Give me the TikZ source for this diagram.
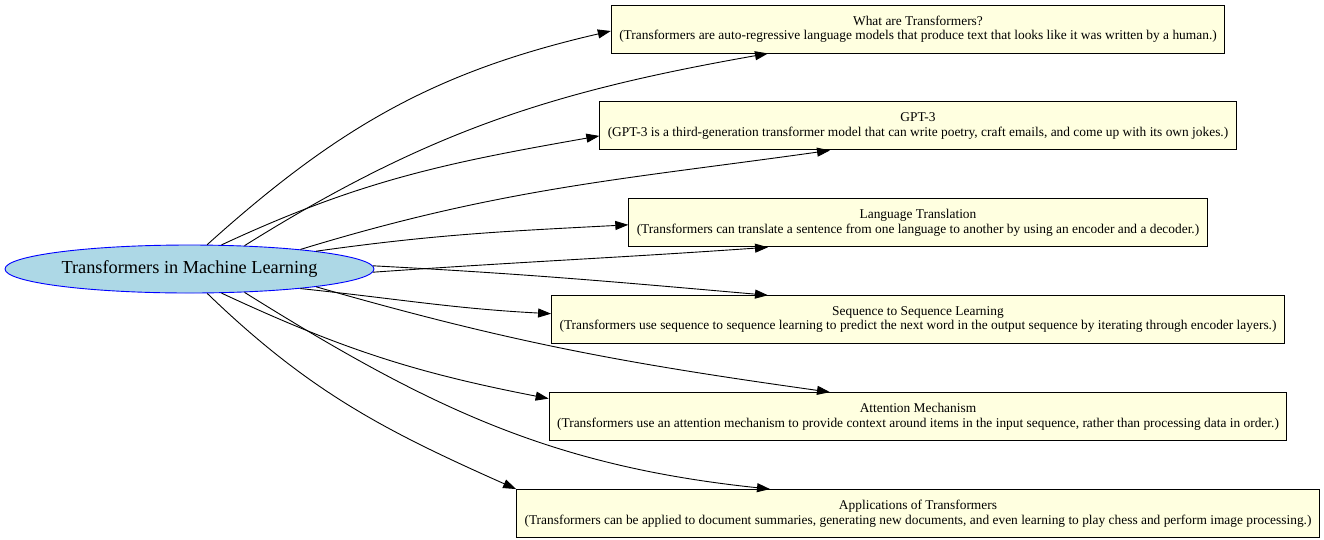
\documentclass[tikz,border=0pt]{standalone}
\usepackage{fontspec}
\setmainfont{Liberation Serif}
\usetikzlibrary{arrows.meta, positioning, shapes.geometric}
\definecolor{rootfill}{HTML}{ADD8E6}
\definecolor{topicfill}{HTML}{FFFFE0}

\begin{document}
\begin{tikzpicture}[x=1pt, y=1pt, >={Triangle[length=13pt, width=9pt]},
    topic/.style={draw=black, fill=topicfill, line width=0.9pt, minimum height=48pt,
      inner xsep=8pt, inner ysep=0pt, align=center, font=\fontsize{13.4}{14.5}\selectfont},
    root/.style={ellipse, draw=blue, fill=rootfill, line width=0.9pt, minimum width=369pt,
      minimum height=48pt, inner sep=0pt, font=\fontsize{18.3}{22}\selectfont},
    link/.style={->, line width=0.9pt},
    node distance=48pt]
    \useasboundingbox (0,0) rectangle (1324,-539);

    \node[root] (ml) at (189.5,-269) {Transformers in Machine Learning};

    \node[topic] (what) at (918,-29) {What are Transformers?\\(Transformers are auto-regressive language models that produce text that looks like it was written by a human.)};
    \node[topic, below=of what] (gpt) {GPT-3\\(GPT-3 is a third-generation transformer model that can write poetry, craft emails, and come up with its own jokes.)};
    \node[topic, below=of gpt] (transl) {Language Translation\\(Transformers can translate a sentence from one language to another by using an encoder and a decoder.)};
    \node[topic, below=of transl] (seq) {Sequence to Sequence Learning\\(Transformers use sequence to sequence learning to predict the next word in the output sequence by iterating through encoder layers.)};
    \node[topic, below=of seq] (attn) {Attention Mechanism\\(Transformers use an attention mechanism to provide context around items in the input sequence, rather than processing data in order.)};
    \node[topic, below=of attn] (apps) {Applications of Transformers\\(Transformers can be applied to document summaries, generating new documents, and even learning to play chess and perform image processing.)};

    % edges going up
    \draw[link] (ml.54) to[out=42, in=193] ([yshift=-2pt]what.west);
    \draw[link] (ml.23) to[out=32, in=190] ([xshift=-150pt]what.south);
    \draw[link] (ml.37) to[out=25, in=190] ([yshift=-10pt]gpt.west);
    \draw[link] (ml.10) to[out=17, in=188] ([xshift=-88pt]gpt.south);
    \draw[link] (ml.8) to[out=8, in=183] ([yshift=-2pt]transl.west);
    \draw[link] (ml.-1) to[out=4, in=184] ([xshift=-150pt]transl.south);

    % edges going down
    \draw[link] (ml.1) to[out=-3, in=175] ([xshift=-150pt]seq.north);
    \draw[link] (ml.-10) to[out=-6, in=177] ([yshift=6pt]seq.west);
    \draw[link] (ml.-8) to[out=-16, in=172] ([xshift=-88pt]attn.north);
    \draw[link] (ml.-37) to[out=-25, in=169] ([yshift=18pt]attn.west);
    \draw[link] (ml.-23) to[out=-32, in=174] ([xshift=-148pt]apps.north);
    \draw[link] (ml.-54) to[out=-44, in=156] (apps.north west);
\end{tikzpicture}
\end{document}
